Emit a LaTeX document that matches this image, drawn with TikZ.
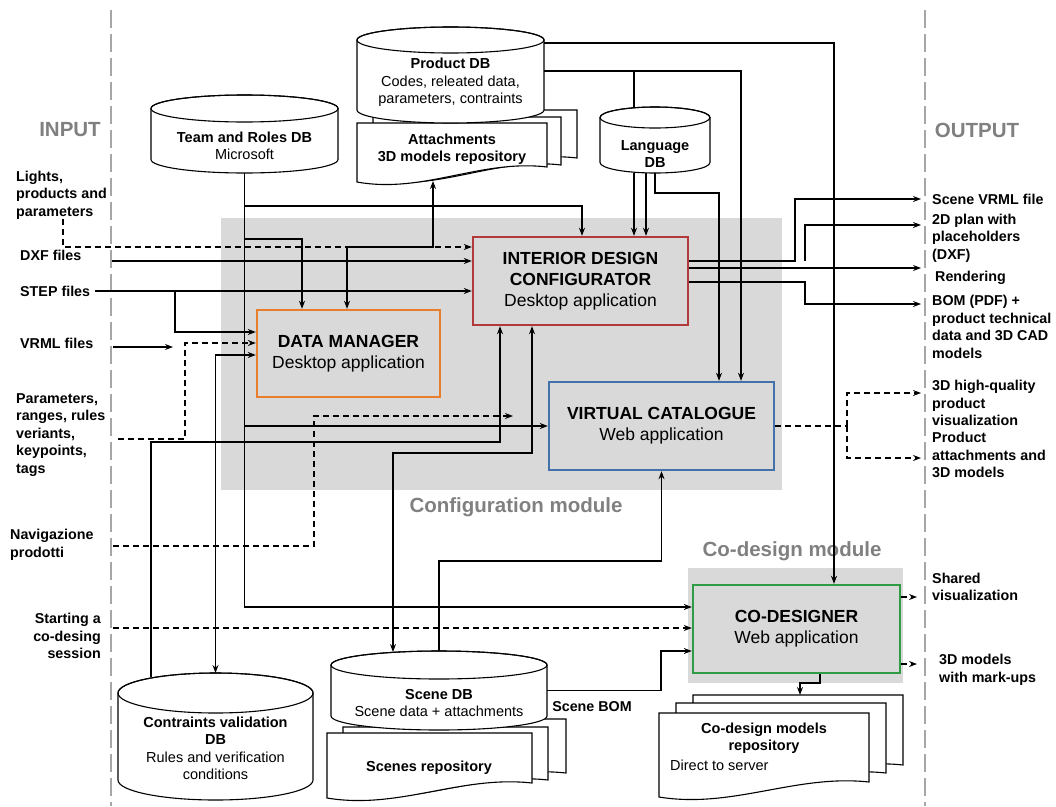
\documentclass[tikz,border=0pt]{standalone}
\usepackage{fontspec}
\setmainfont{Liberation Sans}
\usetikzlibrary{arrows.meta, calc}
\definecolor{modgray}{HTML}{D9D9D9}
\definecolor{labgray}{HTML}{808080}
\definecolor{sepgray}{HTML}{A6A6A6}
\definecolor{idcred}{HTML}{B23A3A}
\definecolor{dmorange}{HTML}{E87D2C}
\definecolor{vcblue}{HTML}{4472A8}
\definecolor{cdgreen}{HTML}{2F9B45}
\tikzstyle{app} = [rectangle, draw, fill=modgray, line width=2.4pt, align=center, font=\fontsize{17.5}{21}\selectfont]
\tikzstyle{dbbox} = [rectangle, inner sep=0pt, outer sep=0pt]
\tikzstyle{dbtext} = [align=center, inner sep=0pt, font=\fontsize{14.5}{17.5}\selectfont]
\tikzstyle{side} = [align=left, inner sep=0pt, font=\fontsize{14.3}{17.5}\selectfont\bfseries]
\tikzstyle{module} = [inner sep=0pt, text=labgray, font=\fontsize{20.5}{24}\selectfont\bfseries]
\tikzstyle{line} = [line width=1.1pt]
\tikzstyle{arrow} = [line, ->]
\tikzstyle{darrow} = [arrow, dash pattern=on 6pt off 4pt]
\tikzstyle{docline} = [line, fill=white]
\newcommand{\docsheet}[4]{%
  \draw[docline] (#1,#2) -- (#3,#2) -- (#3,#4-15)
    .. controls ($(#3,#4-15)+({-0.35*(#3-#1)},-8)$) and ($(#1,#4)+({0.35*(#3-#1)},12)$) .. (#1,#4) -- cycle;}
\newcommand{\dbcylinder}[6]{% name, x, y, width, height, cap
  \node[dbbox, minimum width=#4pt, minimum height=#5pt] (#1) at (#2,#3) {};
  \pgfmathsetmacro\dbrx{#4/2}
  \draw[line, fill=white] ($(#1.north west)+(0,#6)$) -- ($(#1.south west)+(0,-#6)$)
    arc[start angle=180, end angle=360, x radius=\dbrx pt, y radius=#6pt]
    -- ($(#1.north east)+(0,#6)$)
    arc[start angle=0, end angle=180, x radius=\dbrx pt, y radius=#6pt] -- cycle;
  \draw[line] ($(#1.north)+(0,#6)$) ellipse[x radius=\dbrx pt, y radius=#6pt];}

\begin{document}
\begin{tikzpicture}[x=1pt, y=-1pt, >={Stealth[length=8pt,width=6pt]}]
\useasboundingbox (0,0) rectangle (1056,806);

% module areas
\fill[modgray] (221,218) rectangle (782,490);
\fill[modgray] (688,568) rectangle (903,683);
\node[module] (confmod) at (516,507) {Configuration module};
\node[module] (codmod) at (792,551) {Co-design module};

% input / output borders
\draw[sepgray, line width=2.6pt, dash pattern=on 18pt off 6pt] (111,10) -- (111,806);
\draw[sepgray, line width=2.6pt, dash pattern=on 18pt off 6pt] (925,10) -- (925,806);
\node[module] (input) at (70,130) {INPUT};
\node[module] (output) at (977,130) {OUTPUT};

% repositories
\docsheet{389}{110}{577}{173}
\docsheet{373}{117}{561}{180}
\docsheet{357}{123}{547}{182}
\node[dbtext, font=\fontsize{14.5}{17.5}\selectfont\bfseries] (att) at (452,149) {Attachments\\3D models repository};
\coordinate (attin) at (433,181);

\docsheet{359}{719}{566}{788}
\docsheet{343}{727}{548}{795}
\docsheet{327}{733}{532}{798}
\node[dbtext, font=\fontsize{14.5}{17.5}\selectfont\bfseries] (scenerep) at (429,768) {Scenes repository};

\docsheet{693}{695}{903}{780}
\docsheet{676}{703}{886}{788}
\docsheet{659}{713}{869}{797}
\node[dbtext, font=\fontsize{14.5}{17.5}\selectfont\bfseries] (codrep) at (764,738) {Co-design models\\repository};
\node[dbtext, anchor=west] (direct) at (670,765) {Direct to server};

% databases
\dbcylinder{prod}{450.5}{75}{187}{96}{13}
\node[dbtext] (prodtxt) at (450.5,82.5) {\textbf{Product DB}\\Codes, releated data,\\parameters, contraints};
\dbcylinder{team}{244.5}{134}{187}{78}{13.5}
\node[dbtext] (teamtxt) at (244.5,146) {\textbf{Team and Roles DB}\\Microsoft};
\dbcylinder{lang}{655}{140}{110}{66}{10.5}
\node[dbtext, font=\fontsize{14.5}{17.5}\selectfont\bfseries] (langtxt) at (655,154) {Language\\DB};
\dbcylinder{cons}{215.5}{736.5}{195}{127}{20}
\node[dbtext] (constxt) at (215.5,748.5) {\textbf{Contraints validation}\\\textbf{DB}\\Rules and verification\\conditions};
\dbcylinder{scene}{439}{690.5}{216}{79}{14}
\node[dbtext] (scenetxt) at (439,703) {\textbf{Scene DB}\\Scene data + attachments};

% applications
\node[app, draw=idcred, minimum width=215pt, minimum height=88pt] (idc) at (580.5,281) {\textbf{INTERIOR DESIGN}\\\textbf{CONFIGURATOR}\\Desktop application};
\node[app, draw=dmorange, minimum width=183pt, minimum height=87pt] (dm) at (348.5,353.5) {\textbf{DATA MANAGER}\\Desktop application};
\node[app, draw=vcblue, minimum width=225pt, minimum height=88pt] (vc) at (661.5,426) {\textbf{VIRTUAL CATALOGUE}\\Web application};
\node[app, draw=cdgreen, minimum width=207pt, minimum height=88pt] (cod) at (796.5,629) {\textbf{CO-DESIGNER}\\Web application};

% inputs
\node[side, anchor=west] (lights) at (16,195) {Lights,\\products and\\parameters};
\node[side, anchor=west] (dxf) at (20,255) {DXF files};
\node[side, anchor=west] (step) at (20,291) {STEP files};
\node[side, anchor=west] (vrml) at (20,343) {VRML files};
\node[side, anchor=west] (params) at (16,435) {Parameters,\\ranges, rules\\veriants,\\keypoints,\\tags};
\node[side, anchor=west] (navig) at (10,545) {Navigazione\\prodotti};
\node[side, anchor=east, align=right] (session) at (101,636) {Starting a\\co-desing\\session};

% outputs
\node[side, anchor=west] (vrmlout) at (932,199) {Scene VRML file};
\node[side, anchor=west] (planout) at (932,238) {2D plan with\\placeholders\\(DXF)};
\node[side, anchor=west] (rendout) at (935,278) {Rendering};
\node[side, anchor=west] (bomout) at (932,327) {BOM (PDF) +\\product technical\\data and 3D CAD\\models};
\node[side, anchor=west] (hqout) at (932,403) {3D high-quality\\product\\visualization};
\node[side, anchor=west] (attout) at (932,455) {Product\\attachments and\\3D models};
\node[side, anchor=west] (shareout) at (932,587) {Shared\\visualization};
\node[side, anchor=west] (markout) at (939,670) {3D models\\with mark-ups};
\node[side] (scenebom) at (592,707) {Scene BOM};

\coordinate (vrmlend) at (173,347);
\coordinate (navend) at (513,416);
\coordinate (split) at (805,261);
\coordinate (vcsplit) at (847,426);

% Team and Roles DB
\draw[arrow] (team.south) |- (582,206) -- (idc.north -| 582,0);
\draw[arrow] (team.south) |- (302,239) -- (dm.north -| 302,0);
\draw[arrow] (team.south) |- (vc.west);
\draw[arrow] (team.south) |- (cod.west |- 0,607);

% Product DB and Language DB
\draw[arrow] (prod.east |- 0,43) -| (cod.north -| 834,0);
\draw[arrow] (prod.east |- 0,71) -| (vc.north -| 741,0);
\draw[line] (634,71) -- (634,108);
\draw[arrow] (lang.south -| 634,0) -- (idc.north -| 634,0);
\draw[arrow] (lang.south -| 646,0) -- (idc.north -| 646,0);
\draw[arrow] (lang.south) |- (719,193) -- (vc.north -| 719,0);

% configurator outputs
\draw[arrow] (idc.east |- 0,261) -| (795,199) -- (vrmlout.west -| 921,0);
\draw[arrow] (split) |- (921,225);
\draw[arrow] (idc.east |- 0,268) -- (921,268);
\draw[arrow] (idc.east |- 0,282) -| (805,304) -- (921,304);

% inputs
\draw[darrow] (lights.south -| 63,0) |- (idc.west |- 0,247);
\draw[arrow] (112,261) -- (idc.west |- 0,261);
\draw[arrow] ([xshift=5pt]step.east) -- (idc.west |- 0,291);
\draw[arrow] (175,291) |- (dm.west |- 0,332);
\draw[arrow] (113,347) -- (vrmlend);
\draw[darrow] (118,439) -| (185,343) -- (dm.west |- 0,343);
\draw[line, <->] (dm.west |- 0,355) -| (cons.north);
\draw[arrow] (151,677) |- (500,442) -- (idc.south -| 500,0);
\draw[darrow] (113,546) -| (314,416) -- (navend);
\draw[line, <->] (dm.north -| 347,0) |- (433,247) -- (attin);

% scenes
\draw[line, <->] (idc.south -| 532,0) |- (393,453) -- (393,652);
\draw[arrow] (scene.north) -- (439,561) -| (vc.south);
\draw[arrow] (scene.east) -| (661,651) -- (cod.west |- 0,651);
\draw[darrow] (113,628) -- (cod.west |- 0,628);

% co-designer and catalogue outputs
\draw[arrow] (cod.south -| 820,0) -- (820,683) -| (800,695);
\draw[darrow] (cod.east |- 0,597) -- (917,597);
\draw[darrow] (cod.east |- 0,664) -- (917,664);
\draw[line, dash pattern=on 6pt off 4pt] (vc.east) -- (vcsplit);
\draw[darrow] (vcsplit) |- (921,393);
\draw[darrow] (vcsplit) |- (921,458);

\end{tikzpicture}
\end{document}
